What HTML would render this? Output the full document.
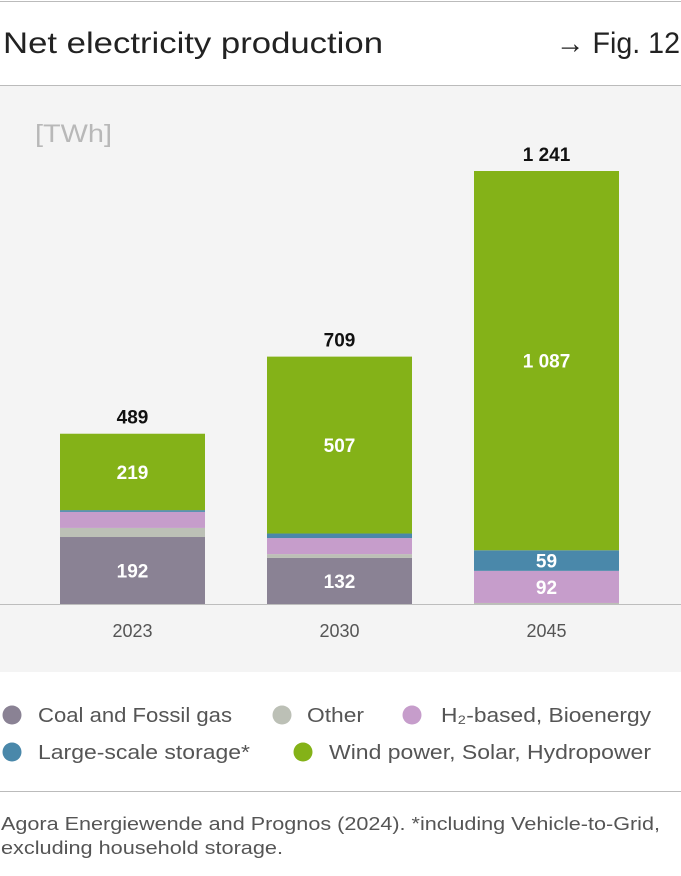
<!DOCTYPE html>
<html><head><meta charset="utf-8"><style>
body{margin:0;background:#fff;}
svg{display:block;font-family:"Liberation Sans",sans-serif;}
</style></head><body>
<svg id="c" width="681" height="876" viewBox="0 0 681 876">
<line x1="0" y1="1.5" x2="681" y2="1.5" stroke="#bbb"/>
<text x="3" y="53" font-size="30" fill="#222" textLength="380" lengthAdjust="spacingAndGlyphs">Net electricity production</text>
<text x="556" y="53" font-size="30" fill="#222" textLength="124" lengthAdjust="spacingAndGlyphs">→ Fig. 12</text>
<line x1="0" y1="85.5" x2="681" y2="85.5" stroke="#bbb"/>
<rect x="0" y="86" width="681" height="586" fill="#f4f4f4"/>
<text x="35" y="142" font-size="25" fill="#b8b8b8" textLength="77" lengthAdjust="spacingAndGlyphs">[TWh]</text>
<g id="bars"></g>
<line x1="0" y1="604.5" x2="681" y2="604.5" stroke="#bdbdbd"/>
<g id="legend"></g>
<line x1="0" y1="791.5" x2="681" y2="791.5" stroke="#bbb"/>
<text x="1" y="830" font-size="18" fill="#555" textLength="659" lengthAdjust="spacingAndGlyphs">Agora Energiewende and Prognos (2024). *including Vehicle-to-Grid,</text>
<text x="1" y="854" font-size="18" fill="#555" textLength="282" lengthAdjust="spacingAndGlyphs">excluding household storage.</text>
</svg>
<script>
const years=["2023","2030","2045"];
const coal=[192,132,0];
const other=[26,11,3];
const bio=[46,46,92];
const storage=[5,13,59];
const wind=[219,507,1087];
const totals=["489","709","1 241"];
const segLabels=[["192","","","","219"],["132","","","","507"],["","","92","59","1 087"]];
const series=[coal,other,bio,storage,wind];
const colors=["#8a8294","#bcc0b6","#c69dcb","#4a88aa","#84b218"];
const names=["coal","other","bioenergy","storage","wind"];
const NS="http://www.w3.org/2000/svg";
const base=604,scale=433/1241,bw=145,x0=[60,267,474];
const y=v=>base-v*scale;
const g=document.getElementById("bars");
function mk(t,a){const e=document.createElementNS(NS,t);for(const k in a)e.setAttribute(k,a[k]);return e;}
years.forEach((yr,i)=>{
  let cum=0;
  series.forEach((s,j)=>{
    const v=s[i];if(v<=0)return;
    const r=mk("rect",{x:x0[i],y:y(cum+v),width:bw,height:v*scale,fill:colors[j]});
    
    
    g.appendChild(r);
    const lbl=segLabels[i][j];
    if(lbl){
      const t=mk("text",{x:x0[i]+bw/2,y:y(cum+v/2)+7,"font-size":19,"font-weight":"bold",fill:"#fff","text-anchor":"middle"});
      t.textContent=lbl;
      
      
      g.appendChild(t);
    }
    cum+=v;
  });
  const tt=mk("text",{x:x0[i]+bw/2,y:y(cum)-10,"font-size":19,"font-weight":"bold",fill:"#111","text-anchor":"middle"});
  tt.textContent=totals[i];
  
  
  g.appendChild(tt);
  const xl=mk("text",{x:x0[i]+bw/2,y:637,"font-size":18,fill:"#555","text-anchor":"middle"});
  xl.textContent=yr;
  
  
  g.appendChild(xl);
});
const legItems=[["Coal and Fossil gas",12,715,38,194,0],["Other",282,715,307,57,1],["H₂-based, Bioenergy",412,715,441,210,2],["Large-scale storage*",12,752,38,212,3],["Wind power, Solar, Hydropower",303,752,329,322,4]];
const lg=document.getElementById("legend");
legItems.forEach(it=>{
  const c=mk("circle",{cx:it[1],cy:it[2],r:9.5,fill:colors[it[5]]});
  
  
  lg.appendChild(c);
  const t=mk("text",{x:it[3],y:it[2]+7,"font-size":20,fill:"#555",textLength:it[4],lengthAdjust:"spacingAndGlyphs"});
  t.textContent=it[0];
  
  
  lg.appendChild(t);
});
</script>
</body></html>
